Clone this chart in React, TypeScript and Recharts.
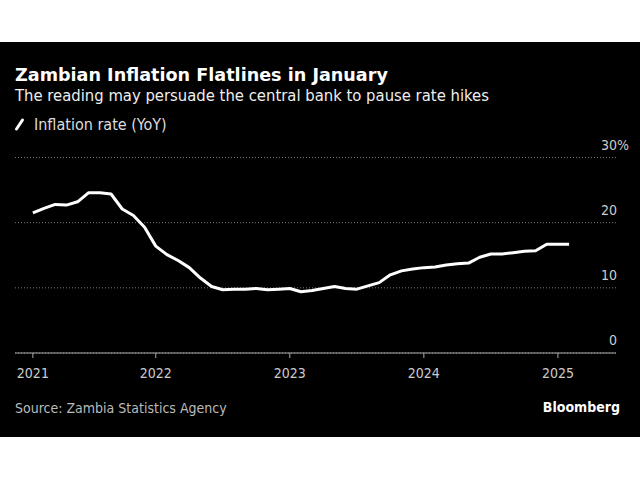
import React from 'react';
import { LineChart, Line, XAxis, YAxis, CartesianGrid } from 'recharts';

const FONT = '"DejaVu Sans Condensed", "DejaVu Sans", sans-serif';
const TITLE_FONT = '"DejaVu Sans", sans-serif';

// Zambia CPI, year-on-year %, one value per month, Jan 2021 .. Jan 2025
const RATE_2021 = [21.5, 22.2, 22.8, 22.7, 23.2, 24.6, 24.6, 24.4, 22.1, 21.1, 19.3, 16.4];
const RATE_2022 = [15.1, 14.2, 13.1, 11.5, 10.2, 9.7, 9.8, 9.8, 9.9, 9.7, 9.8, 9.9];
const RATE_2023 = [9.4, 9.6, 9.9, 10.2, 9.9, 9.8, 10.3, 10.8, 12.0, 12.6, 12.9, 13.1];
const RATE_2024 = [13.2, 13.5, 13.7, 13.8, 14.7, 15.2, 15.2, 15.4, 15.6, 15.7, 16.7, 16.7];
const RATE_2025 = [16.7];

// x is months since Jan 2021; year ticks sit on the turn of each year
const YEAR_TICKS = [0, 11, 23, 35, 47];
const YEAR_LABELS = ['2021', '2022', '2023', '2024', '2025'];
const RATE_TICKS = [0, 10, 20, 30];

const data = [...RATE_2021, ...RATE_2022, ...RATE_2023, ...RATE_2024, ...RATE_2025].map((rate, m) => ({
  m,
  rate,
}));

const RateTick = ({ x, y, payload }: any) => (
  <g>
    <text x={x + 1} y={y - 8} textAnchor="end" fill="#ccc" fontSize={14} fontFamily={FONT}>
      {payload.value}
    </text>
    {payload.value === 30 && (
      <text x={x + 1} y={y - 8} fill="#ccc" fontSize={14} fontFamily={FONT}>
        %
      </text>
    )}
  </g>
);

export default function App() {
  return (
    <div style={{ position: 'absolute', left: 0, top: 0, width: 640, height: 480, background: '#fff' }}>
      <div style={{ position: 'absolute', left: 0, top: 42, width: 640, height: 395, background: '#000' }} />
      <svg width={640} height={480} style={{ position: 'absolute', left: 0, top: 0 }}>
        <text x={15} y={81} fill="#fff" fontSize={17.6} fontWeight="bold" fontFamily={TITLE_FONT}>
          Zambian Inflation Flatlines in January
        </text>
        <text x={15} y={100.5} fill="#eee" fontSize={16.5} fontFamily={FONT}>
          The reading may persuade the central bank to pause rate hikes
        </text>
        <line x1={16.5} y1={129} x2={22.5} y2={120} stroke="#fff" strokeWidth={3} strokeLinecap="round" />
        <text x={34} y={129.5} fill="#ddd" fontSize={16} fontFamily={FONT}>
          Inflation rate (YoY)
        </text>
        <text x={15} y={413} fill="#bbb" fontSize={14} fontFamily={FONT}>
          Source: Zambia Statistics Agency
        </text>
        <text x={620} y={411.5} textAnchor="end" fill="#fff" fontSize={14} fontWeight="bold" fontFamily={FONT}>
          Bloomberg
        </text>
      </svg>
      <div style={{ position: 'absolute', left: 0, top: 0 }}>
        <LineChart width={640} height={400} data={data} margin={{ top: 157.5, right: 0, bottom: 17, left: 15 }}>
          <CartesianGrid vertical={false} stroke="#777" strokeDasharray="1 2" />
          <XAxis
            dataKey="m"
            type="number"
            domain={[-1.6, 52.2]}
            allowDataOverflow
            ticks={YEAR_TICKS}
            tickFormatter={(v: number) => YEAR_LABELS[YEAR_TICKS.indexOf(v)]}
            height={30}
            tickSize={5}
            tickMargin={10}
            stroke="#aaa"
            tick={{ fill: '#ccc', fontSize: 14, fontFamily: FONT }}
          />
          <YAxis
            orientation="right"
            width={24}
            domain={[0, 30]}
            ticks={RATE_TICKS}
            axisLine={false}
            tickLine={false}
            tickSize={0}
            tickMargin={0}
            tick={<RateTick />}
          />
          <Line
            dataKey="rate"
            type="linear"
            stroke="#fff"
            strokeWidth={3}
            strokeLinejoin="round"
            dot={false}
            isAnimationActive={false}
          />
        </LineChart>
      </div>
    </div>
  );
}
